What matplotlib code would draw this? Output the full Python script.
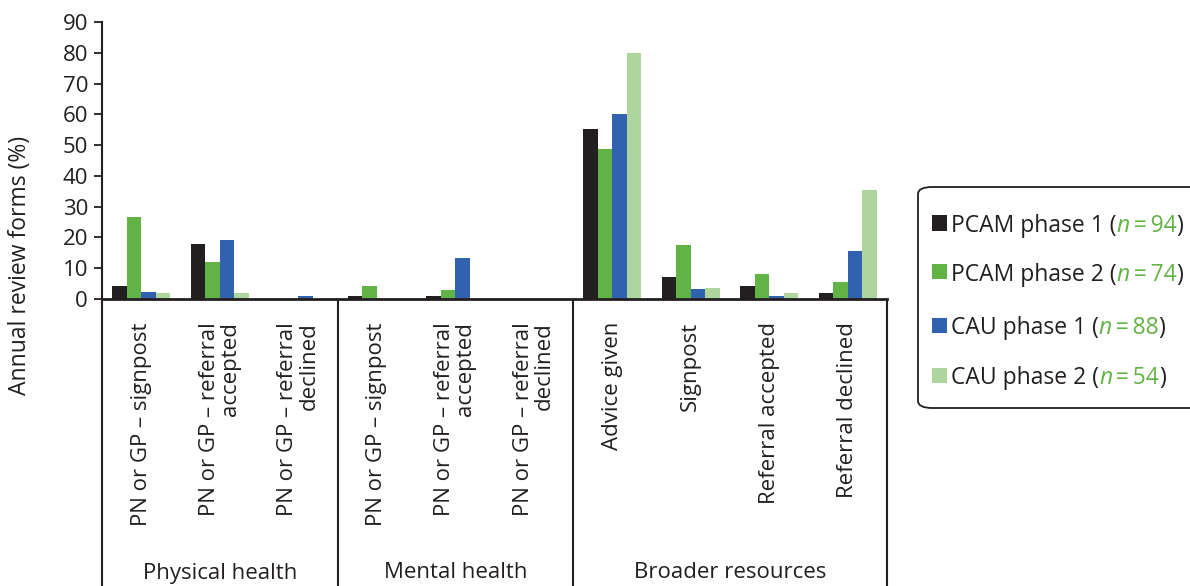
import matplotlib
matplotlib.use("Agg")
import matplotlib.pyplot as plt
from matplotlib.patches import FancyBboxPatch, Rectangle
import numpy as np

plt.rcParams['font.family'] = ['Open Sans', 'DejaVu Sans']

categories = [
    "PN or GP – signpost",
    "PN or GP – referral\naccepted",
    "PN or GP – referral\ndeclined",
    "PN or GP – signpost",
    "PN or GP – referral\naccepted",
    "PN or GP – referral\ndeclined",
    "Advice given",
    "Signpost",
    "Referral accepted",
    "Referral declined",
]
groups = ["Physical health", "Mental health", "Broader resources"]
group_sizes = [3, 3, 4]

series_names = ["PCAM phase 1", "PCAM phase 2", "CAU phase 1", "CAU phase 2"]
series_n = [94, 74, 88, 54]
pcam1 = [4.2, 17.8, 0, 1.0, 1.0, 0, 55.2, 7.1, 4.2, 2.0]
pcam2 = [26.5, 12.0, 0, 4.2, 2.9, 0, 48.7, 17.5, 8.1, 5.5]
cau1 = [2.3, 19.2, 1.0, 0, 13.3, 0, 60.1, 3.2, 1.0, 15.6]
cau2 = [2.0, 1.8, 0, 0, 0, 0, 79.9, 3.6, 2.0, 35.4]
series = [pcam1, pcam2, cau1, cau2]
colors = ["#231f20", "#62b346", "#3162b0", "#aed59e"]
dark = "#231f20"
green_txt = "#62b346"

W, H = 1190, 586
fig = plt.figure(figsize=(W/100, H/100), dpi=100)
ax = fig.add_axes([102/W, (H-299)/H, 785/W, 277/H])

n = len(categories)
x = np.arange(n)
bw = 0.185
for i, (vals, c) in enumerate(zip(series, colors)):
    ax.bar(x + (i - 1.5) * bw, vals, width=bw, color=c, linewidth=0)

ax.set_xlim(-0.5, n - 0.5)
ax.set_ylim(0, 90)
ax.set_yticks(range(0, 91, 10))
ax.tick_params(axis='y', direction='out', length=6, width=1.3, color=dark,
               labelsize=16, labelcolor=dark, pad=4)
ax.set_xticks([])
for s in ['top', 'right']:
    ax.spines[s].set_visible(False)
for s in ['left', 'bottom']:
    ax.spines[s].set_color(dark)
ax.spines['bottom'].set_linewidth(2)
ax.spines['left'].set_linewidth(1.5)

ybot = (299 - H) / 277
bounds = np.cumsum([0] + group_sizes) - 0.5
for b in bounds:
    ax.plot([b, b], [0, ybot], transform=ax.get_xaxis_transform(), color=dark,
            lw=1.5, clip_on=False, solid_capstyle='butt')

for xi, lab in zip(x, categories):
    ax.text(xi, (299 - 322) / 277, lab, transform=ax.get_xaxis_transform(),
            rotation=90, ha='center', va='top', fontsize=16, color=dark,
            multialignment='right', linespacing=1.0)

for g, a, b in zip(groups, bounds[:-1], bounds[1:]):
    ax.text((a + b) / 2, (299 - 573) / 277, g, transform=ax.get_xaxis_transform(),
            ha='center', va='center', fontsize=16, color=dark)

fig.text(20/W, 1 - 265/H, "Annual review forms (%)", rotation=90,
         ha='center', va='center', fontsize=16.5, color=dark)

# legend
box = FancyBboxPatch((918/W, 1 - 408/H), 300/W, 221/H,
                     boxstyle="round,pad=0,rounding_size=0.012",
                     transform=fig.transFigure, facecolor='white',
                     edgecolor=dark, linewidth=1.3, clip_on=False)
fig.patches.append(box)
row_y = [223, 272, 325, 375]
lfs = 16.5
fig.canvas.draw()
renderer = fig.canvas.get_renderer()
for name, nn, c, ry in zip(series_names, series_n, colors, row_y):
    fig.patches.append(Rectangle((932/W, 1 - (ry + 7.5)/H), 15/W, 15/H,
                                 transform=fig.transFigure, facecolor=c,
                                 edgecolor='none'))
    parts = [(name + " (", dark, 'normal'), ("n", green_txt, 'italic'),
             ("\u2009=\u2009" + str(nn), green_txt, 'normal'), (")", dark, 'normal')]
    xpos = 951
    for txt, col, sty in parts:
        t = fig.text(xpos/W, 1 - ry/H, txt, fontsize=lfs, color=col, style=sty,
                     ha='left', va='center_baseline')
        bb = t.get_window_extent(renderer)
        xpos = bb.x1

fig.savefig("out.png", dpi=100)
